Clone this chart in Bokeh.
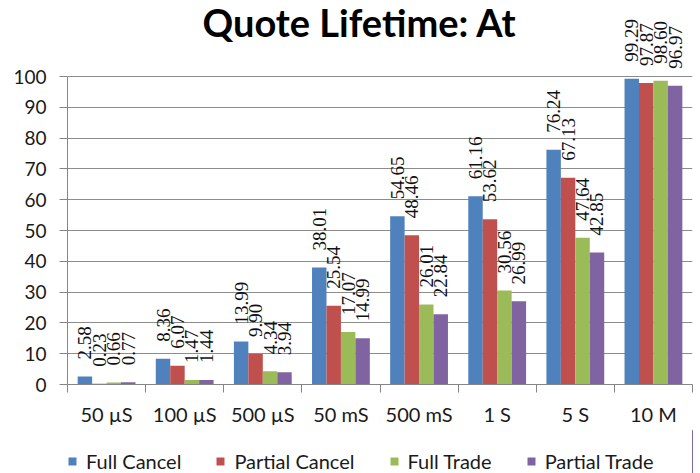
import numpy as np
from bokeh.plotting import figure
from bokeh.layouts import column
from bokeh.models import (Range1d, LinearAxis, FixedTicker, ColumnDataSource, LabelSet,
                          Label, Legend, LegendItem, Grid)
from bokeh.embed import file_html
from bokeh.resources import INLINE

categories = ["50 µS", "100 µS", "500 µS", "50 mS", "500 mS", "1 S", "5 S", "10 M"]
series_names = ["Full Cancel", "Partial Cancel", "Full Trade", "Partial Trade"]
full_cancel = [2.58, 8.36, 13.99, 38.01, 54.65, 61.16, 76.24, 99.29]
partial_cancel = [0.23, 6.07, 9.90, 25.54, 48.46, 53.62, 67.13, 97.87]
full_trade = [0.66, 1.47, 4.34, 17.07, 26.01, 30.56, 47.64, 98.60]
partial_trade = [0.77, 1.44, 3.94, 14.99, 22.84, 26.99, 42.85, 96.97]
y_ticks = [0, 10, 20, 30, 40, 50, 60, 70, 80, 90, 100]

series = [full_cancel, partial_cancel, full_trade, partial_trade]
colors = ["#4F81BD", "#C0504D", "#9BBB59", "#8064A2"]

n = len(categories)
MAIN_H = 430
LEG_H = 473 - MAIN_H
FRAME_H = 384
PX_PER_UNIT = 3.08
Y_TOP = FRAME_H / PX_PER_UNIT

p = figure(width=700, height=MAIN_H, output_backend="svg", toolbar_location=None,
           x_range=Range1d(0, n), y_range=Range1d(0, Y_TOP),
           x_axis_type=None, y_axis_type=None,
           min_border_left=67, min_border_right=8, min_border_top=0,
           min_border_bottom=MAIN_H - FRAME_H)
p.outline_line_color = None
p.background_fill_color = "white"
p.border_fill_color = "white"

# axes
yaxis = LinearAxis(ticker=FixedTicker(ticks=y_ticks), bounds=(0, 100))
yaxis.axis_line_color = "#868686"
yaxis.major_tick_line_color = "#868686"
yaxis.major_tick_out = 8
yaxis.major_tick_in = 0
yaxis.minor_tick_line_color = None
yaxis.major_label_standoff = 13
yaxis.major_label_text_font = "Lato"
yaxis.major_label_text_font_size = "19px"
yaxis.major_label_text_color = "#1a1a1a"
p.add_layout(yaxis, "left")

centers = [i + 0.5 for i in range(n)]
bounds = list(range(n + 1))
xaxis = LinearAxis(ticker=FixedTicker(ticks=centers, minor_ticks=bounds))
xaxis.major_label_overrides = {c: lab for c, lab in zip(centers, categories)}
xaxis.axis_line_color = "#868686"
xaxis.major_tick_line_color = None
xaxis.major_tick_out = 0
xaxis.major_tick_in = 0
xaxis.minor_tick_line_color = "#868686"
xaxis.minor_tick_out = 8
xaxis.minor_tick_in = 0
xaxis.major_label_standoff = 9
xaxis.major_label_text_font = "Lato"
xaxis.major_label_text_font_size = "20px"
xaxis.major_label_text_color = "#1a1a1a"
p.add_layout(xaxis, "below")

p.ygrid.visible = False
p.xgrid.visible = False
grid = Grid(dimension=1, ticker=FixedTicker(ticks=y_ticks), grid_line_color="#8c8c8c",
            grid_line_width=1, bounds=(0, 100))
p.add_layout(grid)

bar_w = 0.185
label_gap = 17 / PX_PER_UNIT

# second strip below the chart that only carries the legend
legend_fig = figure(width=700, height=LEG_H, output_backend="svg", toolbar_location=None,
                    x_range=Range1d(-20, -10), y_range=Range1d(0, 1),
                    x_axis_type=None, y_axis_type=None, min_border=0)
legend_fig.outline_line_color = None
legend_fig.border_fill_color = "white"
legend_fig.xgrid.visible = False
legend_fig.ygrid.visible = False

items = []
for k, (vals, name, col) in enumerate(zip(series, series_names, colors)):
    xs = np.arange(n) + 0.5 + (k - 1.5) * bar_w
    src = ColumnDataSource(dict(x=xs, top=vals, ly=np.array(vals) + label_gap,
                                txt=[f"{v:.2f}" for v in vals]))
    p.vbar(x="x", top="top", width=bar_w, bottom=0, source=src,
           fill_color=col, line_color=None)
    labels = LabelSet(x="x", y="ly", text="txt", source=src, angle=np.pi / 2,
                      text_align="left", text_baseline="middle",
                      text_font="Liberation Sans", text_font_size="19px",
                      text_color="#111111")
    p.add_layout(labels)
    # same bars in the legend strip (outside its visible range), used for the swatch
    lr = legend_fig.vbar(x="x", top="top", width=bar_w, bottom=0, source=src,
                         fill_color=col, line_color=None)
    items.append(LegendItem(label=name, renderers=[lr]))

legend = Legend(items=items, orientation="horizontal", location=(0, 0),
                border_line_color=None, background_fill_alpha=0, padding=0, margin=0,
                spacing=34, label_standoff=9, glyph_width=10, glyph_height=10,
                label_text_font="Lato", label_text_font_size="20px",
                label_text_color="#1a1a1a")
legend_fig.add_layout(legend)

title = Label(x=3.74, y=(FRAME_H - 21) / PX_PER_UNIT, text="Quote Lifetime: At",
              text_align="center", text_baseline="middle", text_font="Lato",
              text_font_style="bold", text_font_size="38px", text_color="#000000")
p.add_layout(title)

layout = column(p, legend_fig, spacing=0)
open("out.html", "w").write(file_html(layout, INLINE))
